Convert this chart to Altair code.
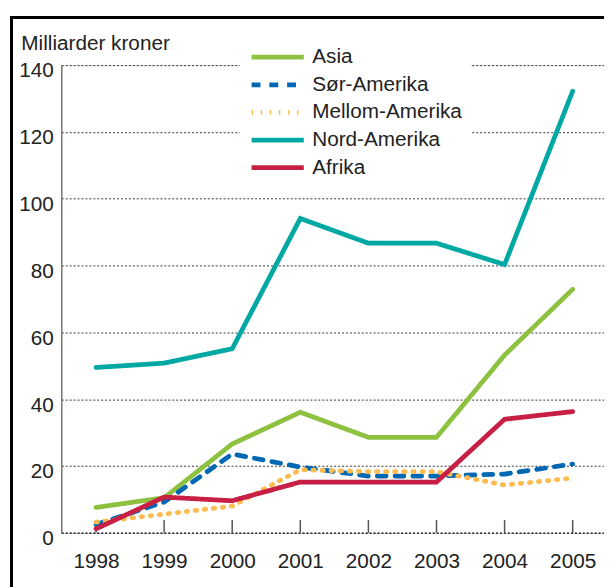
import altair as alt
import pandas as pd

years = [1998, 1999, 2000, 2001, 2002, 2003, 2004, 2005]
nord_amerika = [49.5, 50.8, 55.1, 94.1, 86.7, 86.7, 80.3, 132.2]
asia = [7.6, 10.5, 26.6, 36.1, 28.6, 28.6, 53.2, 72.9]
sor_amerika = [2.5, 9.2, 23.6, 19.7, 17.0, 17.0, 17.6, 20.6]
mellom_amerika = [3.2, 5.6, 8.0, 18.9, 18.3, 18.3, 14.3, 16.4]
afrika = [1.2, 10.7, 9.6, 15.2, 15.2, 15.2, 34.0, 36.3]

legend_order = ["Asia", "Sør-Amerika", "Mellom-Amerika", "Nord-Amerika", "Afrika"]
colors = ["#8dc13f", "#0068b3", "#fcbc50", "#00a8a3", "#c81f44"]
dashes = [[1, 0], [9, 9], [1.5, 7.7], [1, 0], [1, 0]]
widths = [4.8, 4.8, 5.4, 4.8, 4.8]
y_ticks = [0, 20, 40, 60, 80, 100, 120, 140]

series = [
    ("Nord-Amerika", nord_amerika),
    ("Asia", asia),
    ("Sør-Amerika", sor_amerika),
    ("Mellom-Amerika", mellom_amerika),
    ("Afrika", afrika),
]
rows = []
for name, vals in series:
    for yr, v in zip(years, vals):
        rows.append({"Region": name, "År": yr, "Verdi": v})
df = pd.DataFrame(rows)
years_df = pd.DataFrame({"År": years})

W, H = 550, 474
FONT = "Liberation Sans"

xscale = alt.Scale(domain=[1997.49, 2005.46], nice=False, zero=False)
yscale = alt.Scale(domain=[0, 140], nice=False)

leg = dict(title=None, orient="none", legendX=181, legendY=-35,
           symbolType="M-1.74,0H1.74", symbolSize=924, symbolOffset=11.3,
           symbolStrokeWidth=5, labelFontSize=21,
           labelFont=FONT, labelColor="#222", labelOffset=17,
           fillColor="white", padding=9, rowPadding=0,
           labelLimit=400)

lines = alt.Chart(df).mark_line(strokeCap="round", strokeJoin="miter").encode(
    x=alt.X("År:Q", scale=xscale,
            axis=alt.Axis(values=years, format="d", title=None, grid=False, ticks=False,
                          labelFontSize=21, labelFont=FONT, labelColor="#222",
                          labelPadding=18, domainColor="#333", domainWidth=1.5,
                          domainDash=[2, 2])),
    y=alt.Y("Verdi:Q", scale=yscale,
            axis=alt.Axis(values=y_ticks, title="Milliarder kroner", ticks=False,
                          grid=True, gridDash=[2, 2], gridColor="#333", gridWidth=1,
                          domainColor="#777", domainWidth=1.5,
                          labelFontSize=21, labelFont=FONT, labelColor="#222",
                          labelPadding=8, labelOffset=6,
                          titleAngle=0, titleAlign="left", titleBaseline="alphabetic",
                          titleX=-41, titleY=-15.5, titleFontSize=21, titleFont=FONT,
                          titleFontWeight="normal", titleColor="#222")),
    color=alt.Color("Region:N", scale=alt.Scale(domain=legend_order, range=colors),
                    legend=alt.Legend(**leg)),
    strokeDash=alt.StrokeDash("Region:N", scale=alt.Scale(domain=legend_order, range=dashes),
                              legend=alt.Legend(**leg)),
    strokeWidth=alt.StrokeWidth("Region:N", scale=alt.Scale(domain=legend_order, range=widths),
                                legend=None),
    order=alt.Order("År:Q"),
)

ticks = alt.Chart(years_df).mark_rule(color="#555", strokeWidth=1.5).encode(
    x=alt.X("År:Q", scale=xscale),
    y=alt.value(H - 13),
    y2=alt.value(H),
)

frame_left = alt.Chart(years_df).mark_rule(color="black", strokeWidth=2.7).encode(
    x=alt.value(-50.5), y=alt.value(-48.5), y2=alt.value(H + 60),
)
frame_top = alt.Chart(years_df).mark_rule(color="black", strokeWidth=2.7).encode(
    y=alt.value(-48.5), x=alt.value(-51.8), x2=alt.value(W + 20),
)

chart = alt.layer(ticks, lines, frame_left, frame_top).properties(
    width=W, height=H,
    autosize=alt.AutoSizeParams(type="none"),
    padding={"left": 54, "top": 54, "right": 0, "bottom": 51},
).configure_view(stroke=None).configure(background="white")

chart.save("out.html", embed_options={"renderer": "svg", "actions": False})
